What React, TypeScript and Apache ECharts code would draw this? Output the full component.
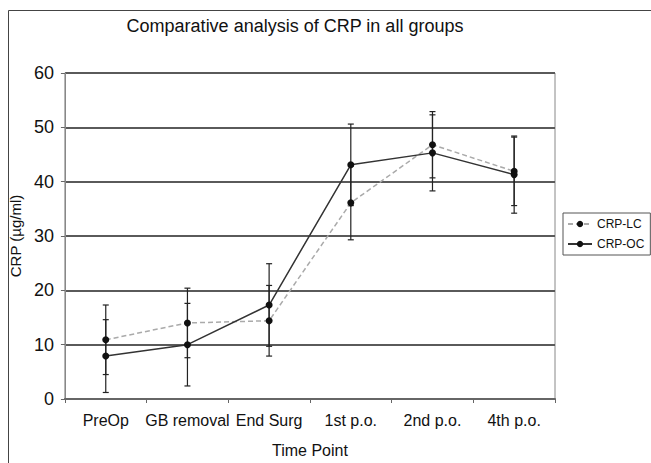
import React, { useEffect, useRef } from "react";
import * as echarts from "echarts";

const categories = ["PreOp", "GB removal", "End Surg", "1st p.o.", "2nd p.o.", "4th p.o."];
const lcMean = [10.9, 14.0, 14.4, 36.1, 46.8, 41.9];
const lcSD = [6.4, 6.4, 6.5, 6.8, 6.1, 6.3];
const ocMean = [7.9, 10.0, 17.3, 43.1, 45.3, 41.3];
const ocSD = [6.7, 7.6, 7.6, 7.5, 7.0, 7.1];
const yTicks = { min: 0, max: 60, interval: 10 };

function errData(mean: number[], sd: number[]) {
  return mean.map((m, i) => [i, m - sd[i], m + sd[i]]);
}

function errRender(params: any, api: any) {
  const x = api.value(0);
  const lo = api.coord([x, api.value(1)]);
  const hi = api.coord([x, api.value(2)]);
  const cap = 3;
  const style = { stroke: "#222", lineWidth: 1.2 };
  return {
    type: "group",
    children: [
      { type: "line", shape: { x1: lo[0], y1: lo[1], x2: hi[0], y2: hi[1] }, style },
      { type: "line", shape: { x1: lo[0] - cap, y1: lo[1], x2: lo[0] + cap, y2: lo[1] }, style },
      { type: "line", shape: { x1: hi[0] - cap, y1: hi[1], x2: hi[0] + cap, y2: hi[1] }, style },
    ],
  };
}

export default function App() {
  const ref = useRef<HTMLDivElement>(null);
  useEffect(() => {
    const chart = echarts.init(ref.current!, null, { renderer: "svg" });
    const font = "Liberation Sans, Arial, sans-serif";
    chart.setOption({
      animation: false,
      backgroundColor: "#fff",
      textStyle: { fontFamily: font },
      title: {
        text: "Comparative analysis of CRP in all groups",
        left: 290,
        textAlign: "center",
        top: 12,
        textStyle: { fontFamily: font, fontSize: 18, fontWeight: "normal", color: "#111" },
      },
      graphic: [
        {
          type: "rect",
          shape: { x: 8.5, y: 10.5, width: 660, height: 470 },
          style: { fill: "none", stroke: "#444", lineWidth: 1 },
          silent: true,
        },
      ],
      legend: {
        data: ["CRP-LC", "CRP-OC"],
        orient: "vertical",
        left: 563,
        top: 213,
        padding: [5, 6, 5, 4],
        itemGap: 8,
        itemWidth: 24,
        itemHeight: 8,
        borderColor: "#555",
        borderWidth: 1,
        textStyle: { fontFamily: font, fontSize: 12, color: "#111" },
      },
      grid: { left: 59, right: 96, top: 73, bottom: 61, show: true, borderColor: "#888", borderWidth: 1 },
      xAxis: {
        type: "category",
        data: categories,
        boundaryGap: true,
        name: "Time Point",
        nameLocation: "middle",
        nameGap: 43,
        nameTextStyle: { fontFamily: font, fontSize: 16, color: "#111" },
        axisLine: { lineStyle: { color: "#666", width: 2 } },
        axisTick: { show: true, length: 4, lineStyle: { color: "#666" } },
        axisLabel: { fontFamily: font, fontSize: 16, color: "#111", margin: 13, interval: 0 },
        splitLine: { show: false },
      },
      yAxis: {
        type: "value",
        min: yTicks.min,
        max: yTicks.max,
        interval: yTicks.interval,
        name: "CRP (µg/ml)",
        nameLocation: "middle",
        nameGap: 37,
        nameTextStyle: { fontFamily: font, fontSize: 15, color: "#111" },
        axisLine: { show: true, lineStyle: { color: "#888", width: 1 } },
        axisTick: { show: true, length: 4, lineStyle: { color: "#666" } },
        axisLabel: { fontFamily: font, fontSize: 18, color: "#111", margin: 11 },
        splitLine: { show: true, lineStyle: { color: "#5a5a5a", width: 2 } },
      },
      series: [
        {
          name: "CRP-LC",
          type: "line",
          data: lcMean,
          symbol: "circle",
          symbolSize: 7,
          itemStyle: { color: "#111" },
          lineStyle: { color: "#aaa", width: 1.5, type: [5, 3] },
          z: 3,
        },
        {
          name: "CRP-OC",
          type: "line",
          data: ocMean,
          symbol: "circle",
          symbolSize: 7,
          itemStyle: { color: "#111" },
          lineStyle: { color: "#333", width: 1.5 },
          z: 4,
        },
        {
          name: "errLC",
          type: "custom",
          renderItem: errRender,
          data: errData(lcMean, lcSD),
          encode: { x: 0, y: [1, 2] },
          z: 2,
          silent: true,
        },
        {
          name: "errOC",
          type: "custom",
          renderItem: errRender,
          data: errData(ocMean, ocSD),
          encode: { x: 0, y: [1, 2] },
          z: 2,
          silent: true,
        },
      ],
    });
    return () => chart.dispose();
  }, []);
  return (
    <div
      ref={ref}
      style={{ position: "fixed", left: 0, top: 0, width: 651, height: 463 }}
    />
  );
}
